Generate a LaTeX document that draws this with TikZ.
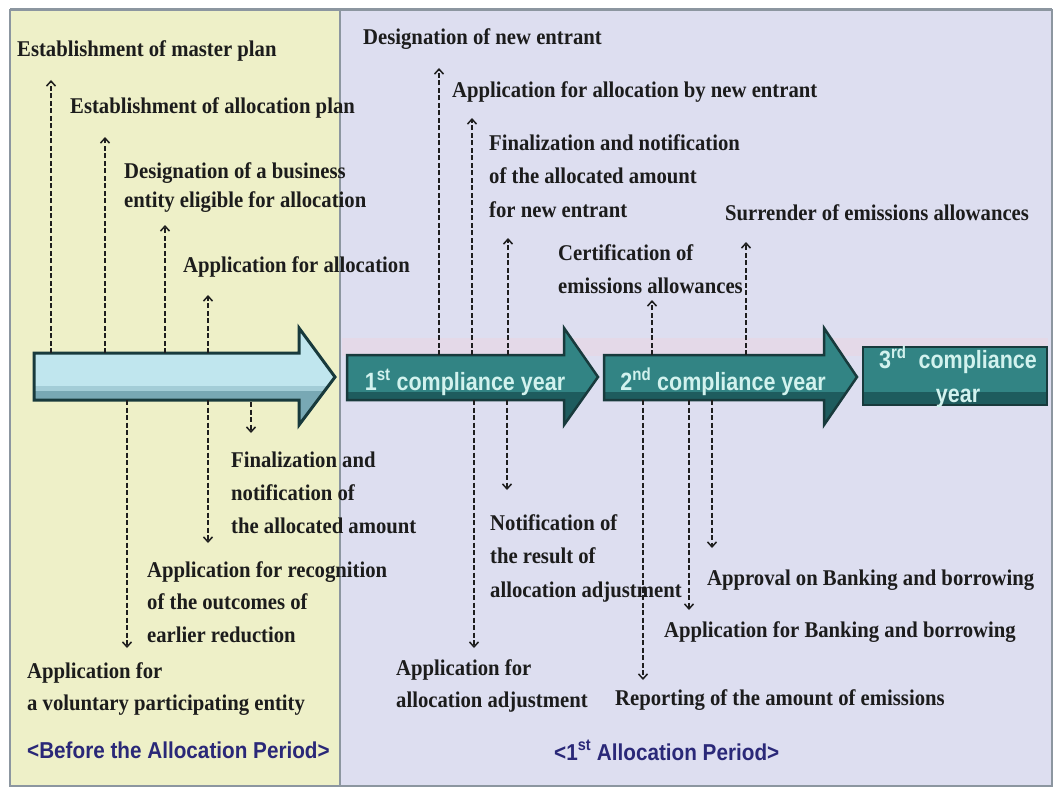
\documentclass[tikz,border=0pt]{standalone}
\usepackage{fontspec}
\setmainfont{Liberation Serif}
\newfontfamily\lblfont[FakeStretch=0.92]{Liberation Serif}
\newfontfamily\cyfont[FakeStretch=0.86]{Liberation Sans}
\newfontfamily\perfont[FakeStretch=0.9]{Liberation Sans}
\usetikzlibrary{arrows.meta}
\definecolor{yellowbg}{RGB}{238,240,200}
\definecolor{bluebg}{RGB}{221,222,240}
\definecolor{framec}{RGB}{140,150,160}
\definecolor{labelc}{RGB}{28,28,28}
\definecolor{arrc}{RGB}{30,30,30}
\definecolor{tealc}{RGB}{50,132,132}
\definecolor{tealdark}{RGB}{24,58,60}
\definecolor{tealshade}{RGB}{30,92,94}
\definecolor{cyantxt}{RGB}{210,242,238}
\definecolor{lightarr}{RGB}{192,230,238}
\definecolor{lightarrdk}{RGB}{120,168,180}
\definecolor{periodc}{RGB}{42,40,120}
\definecolor{pinkband}{RGB}{232,216,230}
\newcommand{\arrowzero}{(34,353) -- (299,353) -- (299,328) -- (335,377) -- (299,425) -- (299,400) -- (34,400) -- cycle}
\newcommand{\arrowone}{(347,355) -- (564,355) -- (564,328) -- (598,377) -- (564,425) -- (564,400) -- (347,400) -- cycle}
\newcommand{\arrowtwo}{(604,355) -- (824,355) -- (824,328) -- (857,377) -- (824,425) -- (824,400) -- (604,400) -- cycle}
\newcommand{\boxthree}{(863,347) rectangle (1047,405)}
\tikzset{
  lbl/.style={font=\lblfont\bfseries\fontsize{22.5}{33}\selectfont, text=labelc,
    inner sep=0pt, anchor=base west, align=left},
  cytxt/.style={font=\cyfont\bfseries\fontsize{25}{34}\selectfont, text=cyantxt,
    inner sep=0pt, anchor=base, align=center},
  pertxt/.style={font=\perfont\bfseries\fontsize{23}{28}\selectfont, text=periodc,
    inner sep=0pt, anchor=base west},
  dasharr/.style={draw=arrc, line width=2pt, dash pattern=on 5pt off 2.5pt,
    -{Straight Barb[length=5pt,width=9pt,line width=1.5pt]}},
  tealline/.style={draw=tealdark, line width=2.5pt, line join=miter},
}
\begin{document}
\begin{tikzpicture}[x=1pt,y=-1pt]
\useasboundingbox (0,0) rectangle (1060,792);
\fill[white] (0,0) rectangle (1060,792);
% panels
\fill[yellowbg] (10,10) rectangle (340,786);
\fill[bluebg] (340,10) rectangle (1052,786);
\fill[pinkband, opacity=0.7] (342,338) rectangle (1048,356);
\draw[framec, line width=1.5pt] (10,10) rectangle (1052,786);
\draw[framec, line width=3pt] (10,10) -- (1052,10);
\draw[framec, line width=1.5pt] (340,10) -- (340,786);

% big arrows: flat fill with a darker lower band
\fill[lightarr] \arrowzero;
\begin{scope}
  \clip \arrowzero;
  \fill[lightarrdk] (20,390) rectangle (340,440);
  \fill[lightarr!60!lightarrdk] (20,386) rectangle (340,391);
\end{scope}
\draw[tealline, line width=3pt] \arrowzero;

\foreach \p in {\arrowone,\arrowtwo,\boxthree} {
  \fill[tealc] \p;
  \begin{scope}
    \clip \p;
    \fill[tealshade] (340,392) rectangle (1050,440);
  \end{scope}
  \draw[tealline] \p;
}

\node[cytxt] (cy1) at (465,390) {1\textsuperscript{st} compliance year};
\node[cytxt] (cy2) at (723,390) {2\textsuperscript{nd} compliance year};
\node[cytxt] (cy3) at (958,402) {3\textsuperscript{rd}\ \ compliance\\year};

% labels (multi-line nodes: y is the baseline of the last line)
\node[lbl] (l1) at (17,57) {Establishment of master plan};
\node[lbl] (l2) at (70,113) {Establishment of allocation plan};
\node[lbl] (l3) at (124,207) {Designation of a business\\[-4pt]entity eligible for allocation};
\node[lbl] (l4) at (183,272) {Application for allocation};
\node[lbl] (l5) at (231,533) {Finalization and\\notification of\\the allocated amount};
\node[lbl] (l6) at (147,642) {Application for recognition\\[-1pt]of the outcomes of\\earlier reduction};
\node[lbl] (l7) at (27,710) {Application for\\[-1pt]a voluntary participating entity};
\node[lbl] (l8) at (363,45) {Designation of new entrant};
\node[lbl] (l9) at (452,97) {Application for allocation by new entrant};
\node[lbl] (l10) at (489,217) {Finalization and notification\\of the allocated amount\\[1pt]for new entrant};
\node[lbl] (l11) at (558,293) {Certification of\\emissions allowances};
\node[lbl] (l12) at (725,220) {Surrender of emissions allowances};
\node[lbl] (l13) at (490,597) {Notification of\\the result of\\[1pt]allocation adjustment};
\node[lbl] (l14) at (396,707) {Application for\\[-1pt]allocation adjustment};
\node[lbl] (l15) at (707,585) {Approval on Banking and borrowing};
\node[lbl] (l16) at (664,637) {Application for Banking and borrowing};
\node[lbl] (l17) at (615,705) {Reporting of the amount of emissions};
\node[pertxt] (p1) at (27,758) {<Before the Allocation Period>};
\node[pertxt] (p2) at (554,760) {<1\textsuperscript{st} Allocation Period>};

% connector end points
\coordinate (a1s) at (51,353);  \coordinate (a1e) at (51,80);
\coordinate (a2s) at (105,353); \coordinate (a2e) at (105,137);
\coordinate (a3s) at (165,353); \coordinate (a3e) at (165,225);
\coordinate (a4s) at (208,353); \coordinate (a4e) at (208,295);
\coordinate (a5s) at (127,400); \coordinate (a5e) at (127,648);
\coordinate (a6s) at (208,400); \coordinate (a6e) at (208,543);
\coordinate (a7s) at (251,402); \coordinate (a7e) at (251,433);
\coordinate (a8s) at (439,355); \coordinate (a8e) at (439,68);
\coordinate (a9s) at (472,355); \coordinate (a9e) at (472,118);
\coordinate (a10s) at (508,355); \coordinate (a10e) at (508,238);
\coordinate (a11s) at (474,400); \coordinate (a11e) at (474,648);
\coordinate (a12s) at (507,400); \coordinate (a12e) at (507,490);
\coordinate (a13s) at (652,355); \coordinate (a13e) at (652,300);
\coordinate (a14s) at (746,355); \coordinate (a14e) at (746,242);
\coordinate (a15s) at (643,400); \coordinate (a15e) at (643,680);
\coordinate (a16s) at (689,400); \coordinate (a16e) at (689,610);
\coordinate (a17s) at (712,400); \coordinate (a17e) at (712,548);
\foreach \i in {1,...,17} { \draw[dasharr] (a\i s) -- (a\i e); }
\end{tikzpicture}
\end{document}
